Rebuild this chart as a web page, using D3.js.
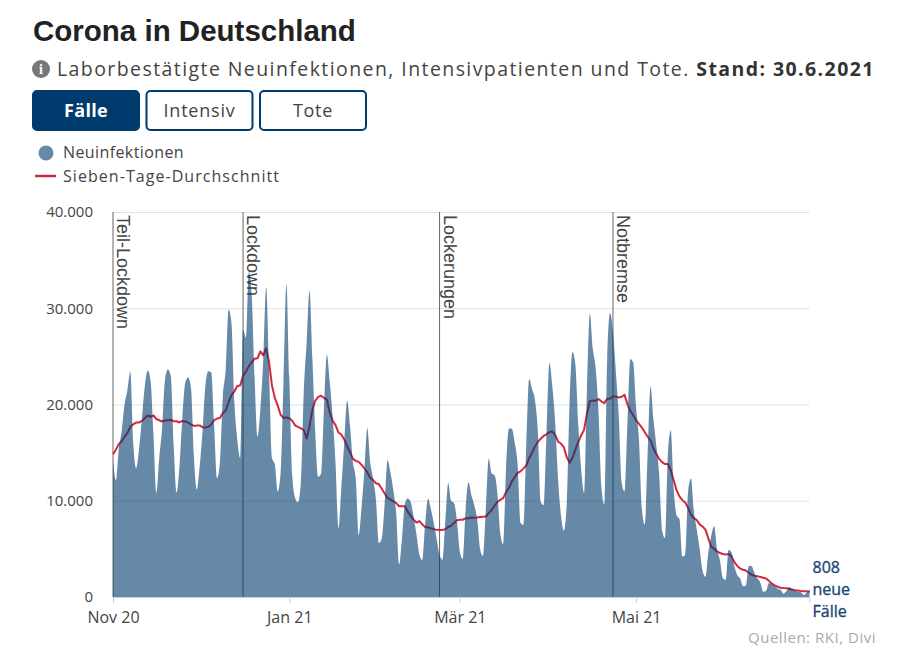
<!DOCTYPE html>
<html>
<head>
<meta charset="utf-8">
<script src="https://cdnjs.cloudflare.com/ajax/libs/d3/7.8.5/d3.min.js"></script>
<style>
  body { margin: 0; background: #fff; }
  svg { display: block; font-family: "Open Sans", sans-serif; }
</style>
</head>
<body>
<script>
// daily new cases (RKI report date), one array per month
let octLeadIn = [8685, 11409, 14964, 16774, 18681, 19059]; // 26.-31.10., only feeds the 7-day average
let novCases = [14177, 12097, 15352, 17214, 19990, 21506, 23399, 16017, 13363, 15332, 18487, 21866, 23542, 22461, 16947, 10824, 14419, 17561, 22609, 23648, 22964, 15741, 10864, 13554, 18633, 22268, 22806, 21695, 14611, 11169];
let decCases = [13604, 17270, 22046, 23449, 23318, 17767, 12332, 14054, 20815, 23679, 29875, 28438, 20200, 16362, 14432, 27728, 26923, 33777, 31300, 22771, 16643, 19528, 24740, 32195, 23500, 14455, 13755, 10976, 12892, 22459, 32552];
let janCases = [22924, 12690, 10315, 9847, 11897, 21237, 26391, 31849, 24694, 16946, 12497, 12802, 19600, 25164, 22368, 18678, 13882, 7141, 11369, 15974, 20398, 17862, 14022, 12257, 6408, 9300, 13202, 17553, 14000, 12300, 10000];
let febCases = [5608, 6114, 9705, 14211, 12908, 11106, 8616, 3379, 6100, 9700, 10237, 9860, 8354, 6500, 4426, 3856, 7556, 10207, 9113, 7676, 6000, 4369, 3883, 8007, 11869, 9997, 9762, 7890];
let marCases = [4732, 3943, 9019, 11912, 10580, 9557, 8103, 5011, 4252, 9146, 14356, 12834, 12674, 10790, 6604, 5480, 13435, 17504, 17482, 16033, 13733, 7709, 7485, 15813, 22657, 21573, 20472, 17176, 9872, 9549, 17051];
let aprCases = [24300, 21888, 18129, 12196, 8497, 6885, 9677, 20407, 25464, 24097, 17855, 13245, 10810, 21693, 29426, 25831, 23804, 19185, 11437, 9609, 24884, 29518, 27543, 23392, 18773, 11907, 10976, 18034, 24736, 24329];
let mayCases = [19700, 16290, 9160, 7534, 14909, 21900, 18485, 15685, 12656, 6922, 6125, 14900, 17300, 11300, 8500, 8100, 4200, 4400, 11000, 12300, 8900, 7000, 5000, 2700, 2100, 4640, 6313, 7380, 5000, 3852, 1978];
let junCases = [1785, 4917, 4640, 3165, 2294, 1911, 1117, 1204, 3254, 3187, 2440, 1911, 1489, 549, 652, 1455, 1330, 1108, 842, 754, 346, 592, 1016, 774, 637, 538, 498, 212, 430, 808];

let eventDates = ["2020-11-01", "2020-12-16", "2021-02-22", "2021-04-23"];
let eventLabels = ["Teil-Lockdown", "Lockdown", "Lockerungen", "Notbremse"];
let yTicks = [0, 10000, 20000, 30000, 40000];
let buttonLabels = ["Fälle", "Intensiv", "Tote"];
let legendLabels = ["Neuinfektionen", "Sieben-Tage-Durchschnitt"];

let parse = d3.timeParse("%Y-%m-%d");
let startDate = parse("2020-11-01");
let endDate = parse("2021-06-30");

let cases = [novCases, decCases, janCases, febCases, marCases, aprCases, mayCases, junCases].flat();
let withLead = octLeadIn.concat(cases);
let data = cases.map((v, i) => ({
  date: d3.timeDay.offset(startDate, i),
  value: v,
  avg: d3.mean(withLead.slice(i, i + 7))
}));

// german formats
let de = d3.timeFormatLocale({
  dateTime: "%A, %e. %B %Y, %X", date: "%d.%m.%Y", time: "%H:%M:%S", periods: ["AM", "PM"],
  days: ["Sonntag", "Montag", "Dienstag", "Mittwoch", "Donnerstag", "Freitag", "Samstag"],
  shortDays: ["So", "Mo", "Di", "Mi", "Do", "Fr", "Sa"],
  months: ["Januar", "Februar", "März", "April", "Mai", "Juni", "Juli", "August", "September", "Oktober", "November", "Dezember"],
  shortMonths: ["Jan", "Feb", "Mär", "Apr", "Mai", "Jun", "Jul", "Aug", "Sep", "Okt", "Nov", "Dez"]
});
let num = d3.formatLocale({ decimal: ",", thousands: ".", grouping: [3], currency: ["", " €"] }).format(",");

let navy = "#003b6e";
let red = "#d6283c";

// the original font runs wider, spread the letters a little to the same width
function fit(node, target) {
  let s = d3.select(node).attr("letter-spacing", 0);
  let w = node.getComputedTextLength();
  let n = node.getNumberOfChars();
  s.attr("letter-spacing", ((target - w) / n).toFixed(2));
}

let svg = d3.select("body").append("svg")
  .attr("width", 900)
  .attr("height", 650);

// header
svg.append("text")
  .attr("x", 33).attr("y", 41)
  .style("font-family", "'Liberation Sans', Arial, sans-serif")
  .style("font-weight", "bold").style("font-size", "29.5px")
  .attr("fill", "#222")
  .text("Corona in Deutschland");

svg.append("circle").attr("cx", 41).attr("cy", 69).attr("r", 9).attr("fill", "#777");
svg.append("text")
  .attr("x", 41).attr("y", 74).attr("text-anchor", "middle")
  .style("font-family", "'Liberation Serif', serif").style("font-weight", "bold").style("font-size", "14px")
  .attr("fill", "#fff").text("i");

let sub = svg.append("text")
  .attr("x", 57).attr("y", 76)
  .style("font-size", "19.5px")
  .attr("fill", "#444");
sub.append("tspan").text("Laborbestätigte Neuinfektionen, Intensivpatienten und Tote. ");
sub.append("tspan").attr("font-weight", "bold").attr("fill", "#333").text("Stand: 30.6.2021");
fit(sub.node(), 818);

// buttons
let buttonWidths = [44, 72, 40];
let buttons = svg.selectAll("g.button")
  .data(buttonLabels)
  .enter()
  .append("g")
    .attr("class", "button")
    .attr("transform", (d, i) => "translate(" + (33 + i * 113.5) + ",91)");
buttons.append("rect")
  .attr("width", 106).attr("height", 39).attr("rx", 4)
  .attr("fill", (d, i) => i === 0 ? navy : "#fff")
  .attr("stroke", navy).attr("stroke-width", 2);
buttons.append("text")
  .attr("x", 53).attr("y", 26).attr("text-anchor", "middle")
  .style("font-size", "18px")
  .attr("font-weight", (d, i) => i === 0 ? "bold" : "normal")
  .attr("fill", (d, i) => i === 0 ? "#fff" : "#444")
  .text(d => d)
  .each(function (d, i) { fit(this, buttonWidths[i]); });

// legend
svg.append("circle").attr("cx", 46).attr("cy", 153).attr("r", 7.5).attr("fill", "#6589a8");
svg.append("line").attr("x1", 35).attr("x2", 56).attr("y1", 176).attr("y2", 176)
  .attr("stroke", red).attr("stroke-width", 2.5);
let legendWidths = [121, 217];
svg.selectAll("text.legend")
  .data(legendLabels)
  .enter()
  .append("text")
    .attr("class", "legend")
    .attr("x", 63).attr("y", (d, i) => 158 + i * 23.5)
    .style("font-size", "16px").attr("fill", "#444")
    .text(d => d)
    .each(function (d, i) { fit(this, legendWidths[i]); });

// scales
let x = d3.scaleTime().domain([startDate, endDate]).range([113, 809.5]);
let y = d3.scaleLinear().domain([0, 40000]).range([597, 212]);

// grid
svg.append("g")
  .attr("transform", "translate(113,0)")
  .call(d3.axisLeft(y).tickValues(yTicks).tickSize(-(809.5 - 113)).tickFormat(""))
  .call(g => g.select(".domain").remove())
  .call(g => g.selectAll("line").attr("stroke", "#e2e2e2"));

// event markers
let events = svg.selectAll("g.event")
  .data(eventDates)
  .enter()
  .append("g")
    .attr("class", "event")
    .attr("transform", d => "translate(" + x(parse(d)) + ",0)");
events.append("line")
  .attr("y1", y(40000)).attr("y2", y(0))
  .attr("stroke", "#666").attr("stroke-width", 1);
events.append("text")
  .attr("transform", "translate(4," + (y(40000) + 3) + ") rotate(90)")
  .style("font-family", "'Liberation Sans', Arial, sans-serif")
  .style("font-size", "18px").attr("fill", "#444")
  .text((d, i) => eventLabels[i]);

// seven day average
let avgLine = d3.line()
  .x(d => x(d.date))
  .y(d => y(d.avg));
svg.append("path")
  .datum(data)
  .attr("d", avgLine)
  .attr("fill", "none")
  .attr("stroke", red)
  .attr("stroke-width", 2)
  .attr("stroke-linejoin", "round");

// daily cases area, drawn on top, half transparent
let area = d3.area()
  .curve(d3.curveMonotoneX)
  .x(d => x(d.date))
  .y0(y(0))
  .y1(d => y(d.value));
svg.append("path")
  .datum(data)
  .attr("d", area)
  .attr("fill", navy)
  .attr("fill-opacity", 0.6);

// axes
svg.append("g")
  .attr("transform", "translate(0," + y(0) + ")")
  .call(d3.axisBottom(x).ticks(d3.timeMonth.every(2)).tickFormat(de.format("%b %y")).tickSizeOuter(0).tickSize(6).tickPadding(9))
  .call(g => g.select(".domain").attr("stroke", "#c3d2ec"))
  .call(g => g.selectAll(".tick line").attr("stroke", "#c3d2ec"))
  .call(g => g.selectAll("text").attr("fill", "#444").style("font-size", "16px").style("font-family", "'Open Sans', sans-serif"));

svg.append("g")
  .attr("transform", "translate(113,0)")
  .call(d3.axisLeft(y).tickValues(yTicks).tickFormat(num).tickSize(0).tickPadding(20))
  .call(g => g.select(".domain").remove())
  .call(g => g.selectAll("text").attr("fill", "#444").style("font-size", "15px").style("font-family", "'Open Sans', sans-serif"));

// last value label
let last = data[data.length - 1];
let lastLines = [num(last.value), "neue", "Fälle"];
svg.selectAll("text.last")
  .data(lastLines)
  .enter()
  .append("text")
    .attr("class", "last")
    .attr("x", x(last.date) + 3)
    .attr("y", (d, i) => y(last.value) - 16 + i * 22)
    .style("font-size", "16px").attr("fill", "#1a4777")
    .style("stroke", "#1a4777").style("stroke-width", 0.35)
    .text(d => d);

let src = svg.append("text")
  .attr("x", 748).attr("y", 643)
  .style("font-size", "15px").attr("fill", "#aaa")
  .text("Quellen: RKI, Divi");
fit(src.node(), 128);
</script>
</body>
</html>
